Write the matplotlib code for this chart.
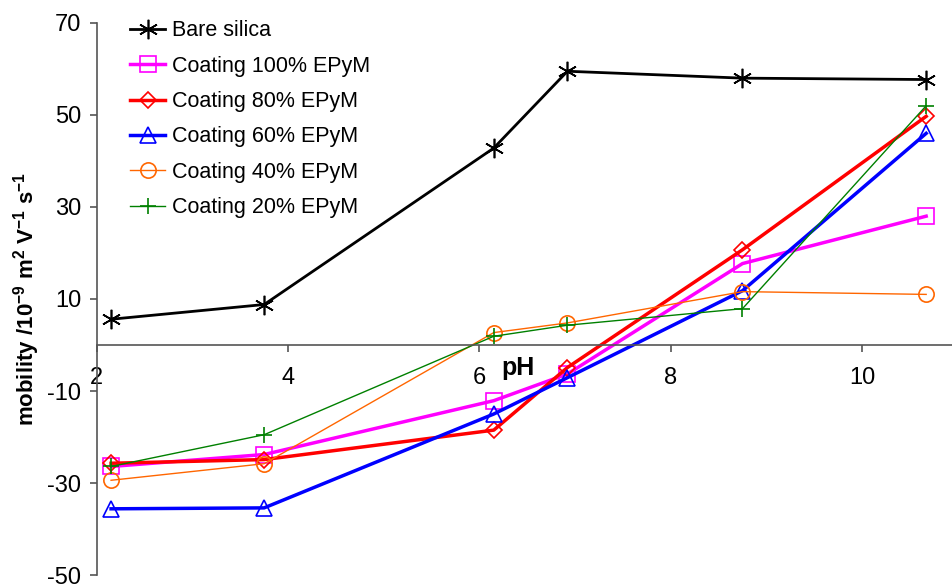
import numpy as np
import matplotlib
matplotlib.use("Agg")
import matplotlib.pyplot as plt

plt.rcParams['font.family'] = ['Liberation Sans', 'DejaVu Sans']
plt.rcParams['axes.unicode_minus'] = False
plt.rcParams['mathtext.fontset'] = 'custom'
plt.rcParams['mathtext.rm'] = 'Liberation Sans:bold'
plt.rcParams['mathtext.bf'] = 'Liberation Sans:bold'
plt.rcParams['mathtext.default'] = 'bf'

# pH values at which mobility was measured
ph = [2.15, 3.75, 6.15, 6.92, 8.75, 10.67]

bare_silica = [5.6, 8.8, 42.8, 59.5, 58.0, 57.7]
coat_100 = [-26.4, -23.8, -12.1, -6.3, 17.7, 28.0]
coat_80 = [-25.7, -24.9, -18.5, -4.9, 20.7, 49.7]
coat_60 = [-35.6, -35.4, -15.0, -7.1, 11.8, 46.0]
coat_40 = [-29.4, -25.8, 2.7, 4.8, 11.6, 11.0]
coat_20 = [-26.4, -19.5, 1.9, 4.3, 7.9, 52.0]

yticks = [-50, -30, -10, 10, 30, 50, 70]
xticks = [2, 4, 6, 8, 10]

fig = plt.figure(figsize=(9.52, 5.88), dpi=100)
ax = fig.add_axes([0.1016, 0.022, 0.8984, 0.939])

ax.plot(ph, bare_silica, color='black', lw=2, marker=(6, 2, 0), ms=14, mew=1.2,
        label='Bare silica')
ax.plot(ph, coat_100, color='#ff00ff', lw=2.5, marker='s', ms=11, mfc='none', mew=1.2,
        label='Coating 100% EPyM')
ax.plot(ph, coat_80, color='#ff0000', lw=2.5, marker='D', ms=8, mfc='none', mew=1.2,
        label='Coating 80% EPyM')
ax.plot(ph, coat_60, color='#0000ff', lw=2.5, marker='^', ms=12, mfc='none', mew=1.2,
        label='Coating 60% EPyM')
ax.plot(ph, coat_40, color='#ff6600', lw=1, marker='o', ms=11, mfc='none', mew=1.2,
        label='Coating 40% EPyM')
ax.plot(ph, coat_20, color='#008000', lw=1, marker='+', ms=12, mew=1.2,
        label='Coating 20% EPyM')

ax.set_xlim(2, 10.94)
ax.set_ylim(-50, 70)
ax.set_yticks(yticks)
ax.set_xticks(xticks)
ax.tick_params(axis='both', labelsize=17, color='#555555', length=5, width=1.2)
ax.tick_params(axis='x', pad=11)
ax.tick_params(axis='y', pad=6)

ax.spines['top'].set_visible(False)
ax.spines['right'].set_visible(False)
ax.spines['left'].set_color('#555555')
ax.spines['left'].set_linewidth(1.2)
ax.spines['bottom'].set_position(('data', 0))
ax.spines['bottom'].set_color('#555555')
ax.spines['bottom'].set_linewidth(1.2)

ax.set_ylabel('mobility /10$^{-9}$ m$^{2}$ V$^{-1}$ s$^{-1}$', fontsize=16,
              fontweight='bold', labelpad=4)
ax.text(6.4, -5.0, 'pH', fontsize=18, fontweight='bold', ha='center', va='center')

ax.legend(loc='upper left', bbox_to_anchor=(0.016, 1.04), frameon=False, fontsize=15.5,
          handlelength=1.65, handletextpad=0.3, labelspacing=0.67)

fig.savefig('out.png', dpi=100)
